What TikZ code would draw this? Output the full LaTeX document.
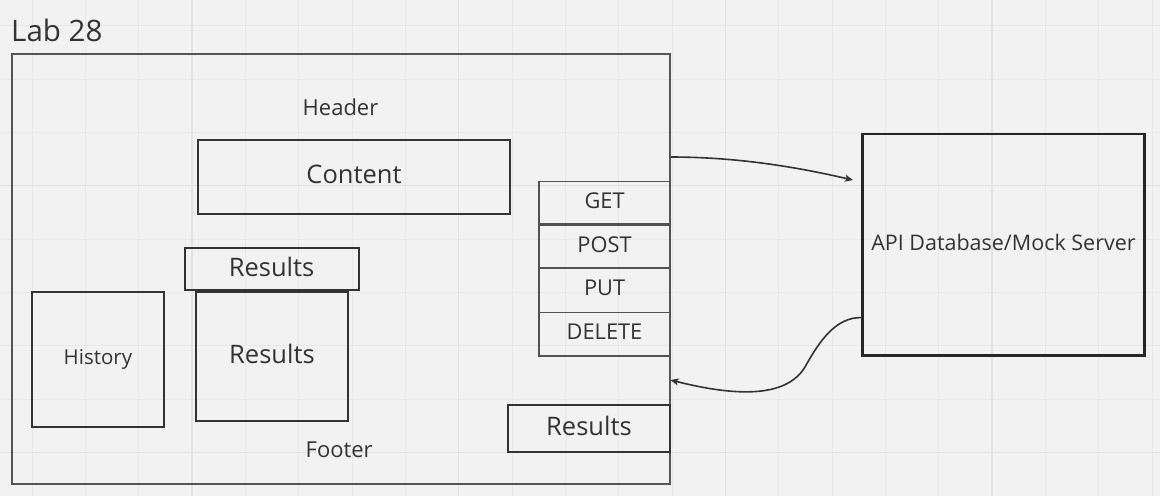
\documentclass[tikz,border=0pt]{standalone}
\usepackage{fontspec}
\setmainfont{Open Sans}
\usetikzlibrary{arrows.meta}
\definecolor{canvas}{HTML}{F2F2F2}
\definecolor{gridminor}{HTML}{E8E8E8}
\definecolor{gridmajor}{HTML}{E2E2E2}
\definecolor{ink}{HTML}{333333}
\definecolor{framecol}{HTML}{555555}
\tikzset{
  box/.style={draw=ink, line width=2pt, text=ink, inner sep=0pt, anchor=north west, text depth=5pt},
  verb/.style={draw=ink!85!white, line width=1.6pt, text=ink, inner sep=0pt, anchor=north west,
    minimum width=131.5pt, text depth=5pt, font=\fontsize{21.8}{24}\selectfont},
  lbl/.style={text=ink, inner sep=0pt},
  conn/.style={draw=ink, line width=1.6pt, -{Stealth[length=8pt,width=7pt,inset=2pt]}}
}
\begin{document}
\begin{tikzpicture}[x=1pt,y=-1pt]
  % canvas and grid
  \fill[canvas] (0,0) rectangle (1160,496);
  \useasboundingbox (0,0) rectangle (1160,496);
  \foreach \i in {0,...,21} {
    \draw[gridminor, line width=1pt] ({32+53.333*\i},0) -- ({32+53.333*\i},496);
  }
  \foreach \j in {0,...,9} {
    \draw[gridminor, line width=1pt] (0,{25.7+53.333*\j}) -- (1160,{25.7+53.333*\j});
  }
  \foreach \i in {192,458.7,725.3,992} {
    \draw[gridmajor, line width=1.3pt] (\i,0) -- (\i,496);
  }
  \foreach \j in {185.7,452.3} {
    \draw[gridmajor, line width=1.3pt] (0,\j) -- (1160,\j);
  }

  % title
  \node[lbl, anchor=base west, font=\fontsize{29.5}{34}\selectfont] (title) at (11,41) {Lab 28};

  % page frame
  \node[draw=framecol, line width=1.5pt, inner sep=0pt, anchor=north west,
        minimum width=658pt, minimum height=430pt] (frame) at (11,53) {};

  \node[lbl, font=\fontsize{22}{26}\selectfont, anchor=base] (header) at (340.5,115.5) {Header};
  \node[lbl, font=\fontsize{22}{26}\selectfont, anchor=base] (footer) at (339.2,457) {Footer};

  \node[box, minimum width=312pt, minimum height=74pt, font=\fontsize{25.5}{30}\selectfont]
       (content) at (197,139) {Content};

  % request methods
  \node[verb, minimum height=42.5pt] (get)  at (538,180.7) {GET};
  \node[verb, minimum height=43pt]   (post) at (538,224.3) {POST};
  \node[verb, minimum height=44pt]   (put)  at (538,267.8) {PUT};
  \node[verb, minimum height=43.5pt] (del)  at (538,311.7) {DELETE};

  % result panes
  \node[box, line width=1.8pt, minimum width=174pt, minimum height=42.5pt,
        font=\fontsize{25.5}{30}\selectfont] (restop) at (183.7,246.8) {Results};
  \node[box, line width=1.8pt, minimum width=152.5pt, minimum height=129.5pt,
        font=\fontsize{25.5}{30}\selectfont] (resmain) at (194.8,290.7) {Results};
  \node[box, minimum width=131.5pt, minimum height=135pt,
        font=\fontsize{20.5}{24}\selectfont] (history) at (31.2,291) {History};
  \node[box, line width=1.8pt, minimum width=162.5pt, minimum height=47.3pt,
        font=\fontsize{25.5}{30}\selectfont] (resbot) at (506.8,403.8) {Results};

  % server
  \node[box, line width=2.6pt, draw=black!85, minimum width=282.5pt, minimum height=221.5pt,
        font=\fontsize{21.5}{26}\selectfont] (api) at (860.9,132.8) {API Database/Mock Server};

  % request and response
  \draw[conn] ([yshift=-104pt]frame.north east)
      .. controls +(70,0) and +(-52,-12) .. ([xshift=-8pt,yshift=-47.2pt]api.north west);
  \coordinate (bend) at (805,367);
  \draw[conn] ([yshift=-72.7pt]api.west)
      .. controls +(-25,0) and (820,340) .. (bend)
      .. controls (785,400) and (730,395) .. ([yshift=-327pt]frame.north east);
\end{tikzpicture}
\end{document}
